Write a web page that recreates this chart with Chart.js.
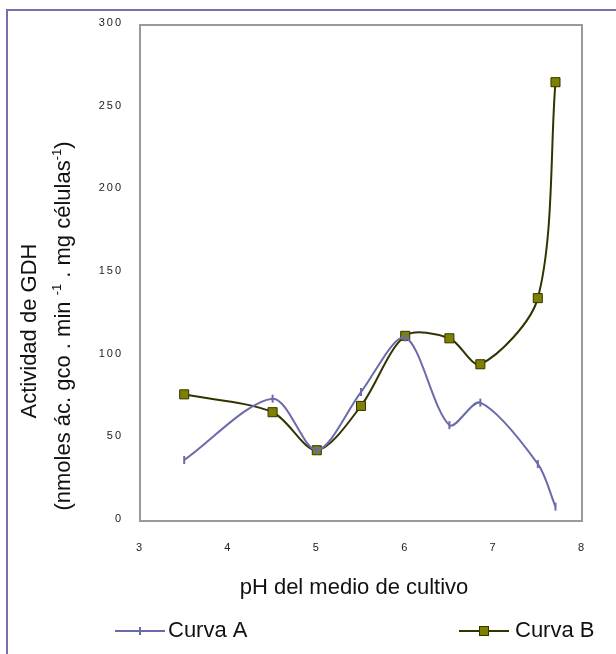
<!DOCTYPE html>
<html>
<head>
<meta charset="utf-8">
<title>Actividad de GDH</title>
<script src="https://cdn.jsdelivr.net/npm/chart.js@4.4.1/dist/chart.umd.min.js"></script>
<style>
  html, body { margin: 0; padding: 0; background: #fff; }
  #wrap { position: relative; width: 616px; height: 654px; overflow: hidden; }
  #frame { position: absolute; left: 6px; top: 9px; width: 700px; height: 700px; border: 2px solid #7272aa; }
  canvas { position: absolute; left: 0; top: 0; }
</style>
</head>
<body>
<div id="wrap">
  <div id="frame"></div>
  <canvas id="chart" width="616" height="654"></canvas>
</div>
<script>
// pH of each culture and measured activity for both curves
const phValues = [3.5, 4.5, 5, 5.5, 6, 6.5, 6.85, 7.5, 7.7];
const curvaA = [36.9, 74.0, 42.8, 78.0, 111.0, 58.0, 71.6, 34.5, 8.7];
const curvaB = [76.6, 65.8, 42.8, 69.6, 112.0, 110.5, 94.8, 134.8, 265.4];

const xTicks = [3, 4, 5, 6, 7, 8];
const yTicks = [0, 50, 100, 150, 200, 250, 300];

const seriesNames = ['Curva A', 'Curva B'];
const xTitle = 'pH del medio de cultivo';
const yTitle1 = 'Actividad de GDH';

const FONT = '"Liberation Sans", Arial, sans-serif';
const COLOR_A = '#6b6bab';
const COLOR_B = '#333300';
const FILL_B = '#808000';

function toPoints(values) {
  return phValues.map((x, i) => ({ x: x, y: values[i] }));
}

// draws a sequence of text runs centred on (0,0) in the current transform
function drawRuns(ctx, runs) {
  let total = 0;
  runs.forEach(r => {
    ctx.font = r.font;
    r.w = ctx.measureText(r.text).width;
    total += r.w;
  });
  let x = -total / 2;
  runs.forEach(r => {
    ctx.font = r.font;
    ctx.fillText(r.text, x, r.dy || 0);
    x += r.w;
  });
}

function drawMarker(ctx, ds, x, y) {
  ctx.save();
  if (ds.pointStyle === 'rect') {
    ctx.fillStyle = ds.pointBackgroundColor;
    ctx.strokeStyle = ds.pointBorderColor;
    ctx.lineWidth = 1;
    ctx.fillRect(x - 4.5, y - 4.5, 9, 9);
    ctx.strokeRect(x - 4.5, y - 4.5, 9, 9);
  } else {
    ctx.strokeStyle = ds.pointBorderColor;
    ctx.lineWidth = 2;
    ctx.beginPath();
    ctx.moveTo(x, y - 4);
    ctx.lineTo(x, y + 4);
    ctx.stroke();
  }
  ctx.restore();
}

const legendSlots = [
  { lineX: 115, textX: 168 },
  { lineX: 459, textX: 515 }
];

const decorations = {
  id: 'decorations',
  beforeDraw(chart) {
    // spaced digits on the tick labels
    chart.ctx.letterSpacing = '2px';
  },
  beforeDatasetsDraw(chart) {
    const { ctx, chartArea: a } = chart;
    ctx.letterSpacing = '0px';
    ctx.save();
    ctx.strokeStyle = '#9a9a9a';
    ctx.lineWidth = 2;
    ctx.strokeRect(a.left, a.top, a.right - a.left, a.bottom - a.top);
    ctx.restore();
  },
  afterDraw(chart) {
    const ctx = chart.ctx;
    ctx.save();
    ctx.letterSpacing = '0px';
    ctx.fillStyle = '#111';
    ctx.textBaseline = 'middle';
    ctx.textAlign = 'left';

    // x axis title
    ctx.save();
    ctx.translate(354, 588);
    drawRuns(ctx, [{ text: xTitle, font: '22px ' + FONT }]);
    ctx.restore();

    // y axis title, two lines with superscripts
    const big = '22px ' + FONT;
    const small = '13px ' + FONT;
    ctx.save();
    ctx.translate(30, 331);
    ctx.rotate(-Math.PI / 2);
    drawRuns(ctx, [{ text: yTitle1, font: big }]);
    ctx.restore();

    ctx.save();
    ctx.translate(64, 326);
    ctx.rotate(-Math.PI / 2);
    drawRuns(ctx, [
      { text: '(nmoles ác. gco . min ', font: big },
      { text: '-1', font: small, dy: -7 },
      { text: ' . mg células', font: big },
      { text: '-1', font: small, dy: -7 },
      { text: ')', font: big }
    ]);
    ctx.restore();

    // legend: line sample with marker, then the series name
    chart.data.datasets.forEach((ds, i) => {
      const slot = legendSlots[i];
      const y = 631;
      ctx.save();
      ctx.strokeStyle = ds.borderColor;
      ctx.lineWidth = 2;
      ctx.beginPath();
      ctx.moveTo(slot.lineX, y);
      ctx.lineTo(slot.lineX + 50, y);
      ctx.stroke();
      ctx.restore();
      drawMarker(ctx, ds, slot.lineX + 25, y);
      ctx.font = big;
      ctx.fillStyle = '#111';
      ctx.fillText(ds.label, slot.textX, y);
    });
    ctx.restore();
  }
};

new Chart(document.getElementById('chart'), {
  type: 'line',
  data: {
    datasets: [
      {
        label: seriesNames[0],
        data: toPoints(curvaA),
        borderColor: COLOR_A,
        borderWidth: 2,
        tension: 0.3,
        fill: false,
        pointStyle: 'line',
        pointRotation: 90,
        pointRadius: 4,
        pointBorderWidth: 2,
        pointBorderColor: COLOR_A,
        pointBackgroundColor: COLOR_A
      },
      {
        label: seriesNames[1],
        data: toPoints(curvaB),
        borderColor: COLOR_B,
        borderWidth: 2,
        tension: 0.3,
        fill: false,
        pointStyle: 'rect',
        pointRadius: 6.4,
        pointBorderWidth: 1,
        pointBorderColor: COLOR_B,
        pointBackgroundColor: FILL_B
      }
    ]
  },
  options: {
    responsive: false,
    animation: false,
    devicePixelRatio: 1,
    layout: { padding: { left: 0, top: 25, right: 34, bottom: 0 } },
    plugins: {
      legend: { display: false },
      tooltip: { enabled: false }
    },
    scales: {
      x: {
        type: 'linear',
        min: 3,
        max: 8,
        afterBuildTicks: s => { s.ticks = xTicks.map(v => ({ value: v })); },
        afterFit: s => { s.height = 133; },
        grid: { display: false, drawTicks: false },
        border: { display: false },
        ticks: {
          padding: 20,
          color: '#222',
          font: { family: FONT, size: 11 }
        },
        title: { display: false }
      },
      y: {
        min: 0,
        max: 300,
        afterBuildTicks: s => { s.ticks = yTicks.map(v => ({ value: v })); },
        afterFit: s => { s.width = 140; },
        grid: { display: false, drawTicks: false },
        border: { display: false },
        ticks: {
          padding: 17,
          labelOffset: -2,
          color: '#222',
          font: { family: FONT, size: 11 }
        },
        title: { display: false }
      }
    }
  },
  plugins: [decorations]
});
</script>
</body>
</html>
